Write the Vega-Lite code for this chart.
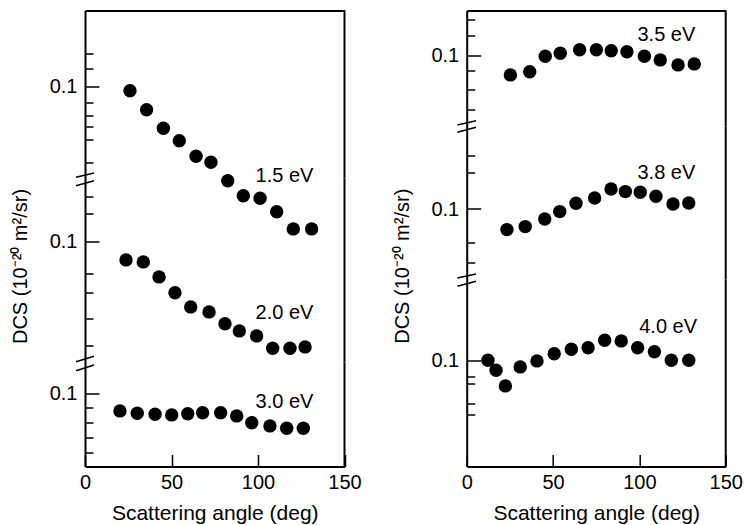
{
  "$schema": "https://vega.github.io/schema/vega-lite/v6.json",
  "padding": {"left": 11, "top": 8.5, "right": 0, "bottom": 0},
  "config": {
    "font": "Liberation Sans",
    "view": {"stroke": null},
    "axis": {
      "domainColor": "black", "domainWidth": 2, "tickColor": "black", "tickWidth": 1.5,
      "labelColor": "black", "labelFontSize": 20, "labelFont": "Liberation Sans",
      "grid": false, "labelFlush": false, "labelOverlap": false,
      "titleColor": "black", "titleFontSize": 21, "titleFontWeight": "normal", "titleFont": "Liberation Sans"
    },
    "text": {"font": "Liberation Sans", "fontSize": 20, "color": "black"}
  },
  "datasets": {
    "dcs": [
      {"energy": "1.5 eV", "angle": 26.0, "dcs": 0.0978},
      {"energy": "1.5 eV", "angle": 35.6, "dcs": 0.0883},
      {"energy": "1.5 eV", "angle": 45.3, "dcs": 0.079},
      {"energy": "1.5 eV", "angle": 54.5, "dcs": 0.0728},
      {"energy": "1.5 eV", "angle": 64.2, "dcs": 0.065},
      {"energy": "1.5 eV", "angle": 72.8, "dcs": 0.062},
      {"energy": "1.5 eV", "angle": 82.5, "dcs": 0.0528},
      {"energy": "1.5 eV", "angle": 91.5, "dcs": 0.0453},
      {"energy": "1.5 eV", "angle": 101.2, "dcs": 0.044},
      {"energy": "1.5 eV", "angle": 110.8, "dcs": 0.0373},
      {"energy": "1.5 eV", "angle": 120.4, "dcs": 0.0287},
      {"energy": "1.5 eV", "angle": 131.0, "dcs": 0.0287},
      {"energy": "2.0 eV", "angle": 23.7, "dcs": 0.0907},
      {"energy": "2.0 eV", "angle": 33.7, "dcs": 0.0897},
      {"energy": "2.0 eV", "angle": 42.8, "dcs": 0.0822},
      {"energy": "2.0 eV", "angle": 52.0, "dcs": 0.0743},
      {"energy": "2.0 eV", "angle": 61.1, "dcs": 0.0672},
      {"energy": "2.0 eV", "angle": 71.7, "dcs": 0.0647},
      {"energy": "2.0 eV", "angle": 80.9, "dcs": 0.0588},
      {"energy": "2.0 eV", "angle": 89.2, "dcs": 0.0552},
      {"energy": "2.0 eV", "angle": 99.2, "dcs": 0.0527},
      {"energy": "2.0 eV", "angle": 108.5, "dcs": 0.0465},
      {"energy": "2.0 eV", "angle": 118.5, "dcs": 0.0465},
      {"energy": "2.0 eV", "angle": 127.2, "dcs": 0.0472},
      {"energy": "3.0 eV", "angle": 20.2, "dcs": 0.0912},
      {"energy": "3.0 eV", "angle": 30.2, "dcs": 0.09},
      {"energy": "3.0 eV", "angle": 40.5, "dcs": 0.0895},
      {"energy": "3.0 eV", "angle": 50.1, "dcs": 0.0892},
      {"energy": "3.0 eV", "angle": 59.4, "dcs": 0.0898},
      {"energy": "3.0 eV", "angle": 68.0, "dcs": 0.0903},
      {"energy": "3.0 eV", "angle": 78.4, "dcs": 0.0903},
      {"energy": "3.0 eV", "angle": 87.7, "dcs": 0.0887},
      {"energy": "3.0 eV", "angle": 96.4, "dcs": 0.0853},
      {"energy": "3.0 eV", "angle": 106.9, "dcs": 0.0837},
      {"energy": "3.0 eV", "angle": 116.6, "dcs": 0.0825},
      {"energy": "3.0 eV", "angle": 126.2, "dcs": 0.0825},
      {"energy": "3.5 eV", "angle": 25.3, "dcs": 0.0904},
      {"energy": "3.5 eV", "angle": 36.5, "dcs": 0.092},
      {"energy": "3.5 eV", "angle": 45.5, "dcs": 0.0997},
      {"energy": "3.5 eV", "angle": 54.2, "dcs": 0.1012},
      {"energy": "3.5 eV", "angle": 65.4, "dcs": 0.103},
      {"energy": "3.5 eV", "angle": 75.1, "dcs": 0.103},
      {"energy": "3.5 eV", "angle": 83.7, "dcs": 0.1025},
      {"energy": "3.5 eV", "angle": 92.8, "dcs": 0.102},
      {"energy": "3.5 eV", "angle": 102.9, "dcs": 0.0997},
      {"energy": "3.5 eV", "angle": 112.1, "dcs": 0.0979},
      {"energy": "3.5 eV", "angle": 122.4, "dcs": 0.0954},
      {"energy": "3.5 eV", "angle": 131.8, "dcs": 0.0959},
      {"energy": "3.8 eV", "angle": 23.3, "dcs": 0.0897},
      {"energy": "3.8 eV", "angle": 33.9, "dcs": 0.0912},
      {"energy": "3.8 eV", "angle": 45.2, "dcs": 0.095},
      {"energy": "3.8 eV", "angle": 53.9, "dcs": 0.0987},
      {"energy": "3.8 eV", "angle": 63.3, "dcs": 0.1029},
      {"energy": "3.8 eV", "angle": 74.1, "dcs": 0.1055},
      {"energy": "3.8 eV", "angle": 83.6, "dcs": 0.11},
      {"energy": "3.8 eV", "angle": 91.9, "dcs": 0.1087},
      {"energy": "3.8 eV", "angle": 100.5, "dcs": 0.1084},
      {"energy": "3.8 eV", "angle": 109.6, "dcs": 0.1064},
      {"energy": "3.8 eV", "angle": 119.5, "dcs": 0.1025},
      {"energy": "3.8 eV", "angle": 128.6, "dcs": 0.103},
      {"energy": "4.0 eV", "angle": 12.3, "dcs": 0.1},
      {"energy": "4.0 eV", "angle": 17.0, "dcs": 0.095},
      {"energy": "4.0 eV", "angle": 22.4, "dcs": 0.0872},
      {"energy": "4.0 eV", "angle": 31.0, "dcs": 0.0967},
      {"energy": "4.0 eV", "angle": 40.7, "dcs": 0.0997},
      {"energy": "4.0 eV", "angle": 50.7, "dcs": 0.1033},
      {"energy": "4.0 eV", "angle": 60.6, "dcs": 0.1055},
      {"energy": "4.0 eV", "angle": 70.3, "dcs": 0.1063},
      {"energy": "4.0 eV", "angle": 79.9, "dcs": 0.11},
      {"energy": "4.0 eV", "angle": 89.5, "dcs": 0.1097},
      {"energy": "4.0 eV", "angle": 99.0, "dcs": 0.1063},
      {"energy": "4.0 eV", "angle": 108.7, "dcs": 0.1043},
      {"energy": "4.0 eV", "angle": 118.5, "dcs": 0.1},
      {"energy": "4.0 eV", "angle": 128.6, "dcs": 0.1}
    ]
  },
  "bounds": "flush",
  "spacing": 381.7,
  "hconcat": [
    {
      "title": {"text": "DCS (10⁻²⁰ m²/sr)", "orient": "left", "anchor": "middle", "fontSize": 20, "fontWeight": "normal", "font": "Liberation Sans", "color": "black", "offset": 18},
      "bounds": "flush",
      "spacing": 0,
      "vconcat": [
        {
          "width": 259.5, "height": 168,
          "layer": [
            {"data": {"name": "dcs"}, "transform": [{"filter": "datum.energy == '1.5 eV'"}],
             "mark": {"type": "circle", "size": 180, "color": "black", "opacity": 1, "clip": false},
             "encoding": {
               "x": {"field": "angle", "type": "quantitative", "scale": {"domain": [0, 150], "nice": false},
                     "axis": {"orient": "top", "labels": false, "ticks": false, "title": null}},
               "y": {"field": "dcs", "type": "quantitative", "scale": {"domain": [0.0539, 0.1379], "nice": false, "zero": false},
                     "axis": {"values": [0.11615, 0.109, 0.1, 0.092, 0.0853, 0.08, 0.0733, 0.062], "tickCount": 50, "title": null, "labelOverlap": false,
                              "labelExpr": "datum.value == 0.1 ? '0.1' : ''",
                              "tickSize": {"condition": {"test": "datum.value == 0.1", "value": -14}, "value": -8},
                              "labelPadding": 22}}
             }},
            {"data": {"values": [{}]}, "mark": {"type": "rule", "color": "black", "strokeWidth": 2}, "encoding": {"x": {"datum": 150}}},
            {"data": {"values": [{}]}, "mark": {"type": "rule", "color": "black", "strokeWidth": 1.5, "clip": false},
             "encoding": {"x": {"datum": -5.2}, "x2": {"datum": 5.2}, "y": {"datum": 0.0545}, "y2": {"datum": 0.05665}}},
            {"data": {"values": [{}]}, "mark": {"type": "rule", "color": "black", "strokeWidth": 1.5, "clip": false},
             "encoding": {"x": {"datum": -5.2}, "x2": {"datum": 5.2}, "y": {"datum": 0.0503}, "y2": {"datum": 0.0528}}},
            {"data": {"values": [{}]}, "mark": {"type": "text", "text": "1.5 eV", "align": "right", "baseline": "alphabetic", "clip": false},
             "encoding": {"x": {"datum": 132}, "y": {"datum": 0.052}}}
          ]
        },
        {
          "width": 259.5, "height": 184,
          "layer": [
            {"data": {"name": "dcs"}, "transform": [{"filter": "datum.energy == '2.0 eV'"}],
             "mark": {"type": "circle", "size": 180, "color": "black", "opacity": 1, "clip": false},
             "encoding": {
               "x": {"field": "angle", "type": "quantitative", "scale": {"domain": [0, 150], "nice": false}, "axis": null},
               "y": {"field": "dcs", "type": "quantitative", "scale": {"domain": [0.0394, 0.1314], "nice": false, "zero": false},
                     "axis": {"values": [0.1225, 0.11365, 0.1, 0.0838, 0.07465, 0.0615, 0.04815], "tickCount": 50, "title": null, "labelOverlap": false,
                              "labelExpr": "datum.value == 0.1 ? '0.1' : ''",
                              "tickSize": {"condition": {"test": "datum.value == 0.1", "value": -14}, "value": -8},
                              "labelPadding": 22}}
             }},
            {"data": {"values": [{}]}, "mark": {"type": "rule", "color": "black", "strokeWidth": 2}, "encoding": {"x": {"datum": 150}}},
            {"data": {"values": [{}]}, "mark": {"type": "rule", "color": "black", "strokeWidth": 1.5, "clip": false},
             "encoding": {"x": {"datum": -5.2}, "x2": {"datum": 5.2}, "y": {"datum": 0.0398}, "y2": {"datum": 0.0425}}},
            {"data": {"values": [{}]}, "mark": {"type": "rule", "color": "black", "strokeWidth": 1.5, "clip": false},
             "encoding": {"x": {"datum": -5.2}, "x2": {"datum": 5.2}, "y": {"datum": 0.0353}, "y2": {"datum": 0.03815}}},
            {"data": {"values": [{}]}, "mark": {"type": "text", "text": "2.0 eV", "align": "right", "baseline": "alphabetic", "clip": false},
             "encoding": {"x": {"datum": 132}, "y": {"datum": 0.061}}}
          ]
        },
        {
          "width": 259.5, "height": 104,
          "layer": [
            {"data": {"name": "dcs"}, "transform": [{"filter": "datum.energy == '3.0 eV'"}],
             "mark": {"type": "circle", "size": 180, "color": "black", "opacity": 1, "clip": false},
             "encoding": {
               "x": {"field": "angle", "type": "quantitative", "scale": {"domain": [0, 150], "nice": false},
                     "axis": {"values": [0, 50, 100, 150], "tickCount": 50, "title": "Scattering angle (deg)", "labelOverlap": false, "tickSize": -12, "labelPadding": 18, "titlePadding": 10}},
               "y": {"field": "dcs", "type": "quantitative", "scale": {"domain": [0.0634, 0.1154], "nice": false, "zero": false},
                     "axis": {"values": [0.1, 0.0928, 0.0853, 0.0778, 0.0703], "tickCount": 50, "title": null, "labelOverlap": false,
                              "labelExpr": "datum.value == 0.1 ? '0.1' : ''",
                              "tickSize": {"condition": {"test": "datum.value == 0.1", "value": -14}, "value": -8},
                              "labelPadding": 22}}
             }},
            {"data": {"values": [{}]}, "mark": {"type": "rule", "color": "black", "strokeWidth": 2}, "encoding": {"x": {"datum": 150}}},
            {"data": {"values": [{}]}, "mark": {"type": "text", "text": "3.0 eV", "align": "right", "baseline": "alphabetic", "clip": false},
             "encoding": {"x": {"datum": 132}, "y": {"datum": 0.0928}}}
          ]
        }
      ]
    },
    {
      "title": {"text": "DCS (10⁻²⁰ m²/sr)", "orient": "left", "anchor": "middle", "fontSize": 20, "fontWeight": "normal", "font": "Liberation Sans", "color": "black", "offset": 18},
      "bounds": "flush",
      "spacing": 0,
      "vconcat": [
        {
          "width": 259, "height": 116,
          "layer": [
            {"data": {"name": "dcs"}, "transform": [{"filter": "datum.energy == '3.5 eV'"}],
             "mark": {"type": "circle", "size": 180, "color": "black", "opacity": 1, "clip": false},
             "encoding": {
               "x": {"field": "angle", "type": "quantitative", "scale": {"domain": [0, 150], "nice": false},
                     "axis": {"orient": "top", "labels": false, "ticks": false, "title": null}},
               "y": {"field": "dcs", "type": "quantitative", "scale": {"domain": [0.0646, 0.1226], "nice": false, "zero": false},
                     "axis": {"values": [0.11835, 0.11, 0.1, 0.0925, 0.08335, 0.07335], "tickCount": 50, "title": null, "labelOverlap": false,
                              "labelExpr": "datum.value == 0.1 ? '0.1' : ''",
                              "tickSize": {"condition": {"test": "datum.value == 0.1", "value": -14}, "value": -8},
                              "labelPadding": 22}}
             }},
            {"data": {"values": [{}]}, "mark": {"type": "rule", "color": "black", "strokeWidth": 2}, "encoding": {"x": {"datum": 150}}},
            {"data": {"values": [{}]}, "mark": {"type": "rule", "color": "black", "strokeWidth": 1.5, "clip": false},
             "encoding": {"x": {"datum": -5.4}, "x2": {"datum": 5.4}, "y": {"datum": 0.06535}, "y2": {"datum": 0.0675}}},
            {"data": {"values": [{}]}, "mark": {"type": "rule", "color": "black", "strokeWidth": 1.5, "clip": false},
             "encoding": {"x": {"datum": -5.4}, "x2": {"datum": 5.4}, "y": {"datum": 0.0617}, "y2": {"datum": 0.0642}}},
            {"data": {"values": [{}]}, "mark": {"type": "text", "text": "3.5 eV", "align": "right", "baseline": "alphabetic", "clip": false},
             "encoding": {"x": {"datum": 132.4}, "y": {"datum": 0.1075}}}
          ]
        },
        {
          "width": 259, "height": 153,
          "layer": [
            {"data": {"name": "dcs"}, "transform": [{"filter": "datum.energy == '3.8 eV'"}],
             "mark": {"type": "circle", "size": 180, "color": "black", "opacity": 1, "clip": false},
             "encoding": {
               "x": {"field": "angle", "type": "quantitative", "scale": {"domain": [0, 150], "nice": false}, "axis": null},
               "y": {"field": "dcs", "type": "quantitative", "scale": {"domain": [0.06475, 0.14125], "nice": false, "zero": false},
                     "axis": {"values": [0.12665, 0.11835, 0.1, 0.08335, 0.07315], "tickCount": 50, "title": null, "labelOverlap": false,
                              "labelExpr": "datum.value == 0.1 ? '0.1' : ''",
                              "tickSize": {"condition": {"test": "datum.value == 0.1", "value": -14}, "value": -8},
                              "labelPadding": 22}}
             }},
            {"data": {"values": [{}]}, "mark": {"type": "rule", "color": "black", "strokeWidth": 2}, "encoding": {"x": {"datum": 150}}},
            {"data": {"values": [{}]}, "mark": {"type": "rule", "color": "black", "strokeWidth": 1.5, "clip": false},
             "encoding": {"x": {"datum": -5.4}, "x2": {"datum": 5.4}, "y": {"datum": 0.0655}, "y2": {"datum": 0.0675}}},
            {"data": {"values": [{}]}, "mark": {"type": "rule", "color": "black", "strokeWidth": 1.5, "clip": false},
             "encoding": {"x": {"datum": -5.4}, "x2": {"datum": 5.4}, "y": {"datum": 0.06135}, "y2": {"datum": 0.06385}}},
            {"data": {"values": [{}]}, "mark": {"type": "text", "text": "3.8 eV", "align": "right", "baseline": "alphabetic", "clip": false},
             "encoding": {"x": {"datum": 132.4}, "y": {"datum": 0.115}}}
          ]
        },
        {
          "width": 259, "height": 187,
          "layer": [
            {"data": {"name": "dcs"}, "transform": [{"filter": "datum.energy == '4.0 eV'"}],
             "mark": {"type": "circle", "size": 180, "color": "black", "opacity": 1, "clip": false},
             "encoding": {
               "x": {"field": "angle", "type": "quantitative", "scale": {"domain": [0, 150], "nice": false},
                     "axis": {"values": [0, 50, 100, 150], "tickCount": 50, "title": "Scattering angle (deg)", "labelOverlap": false, "tickSize": -12, "labelPadding": 18, "titlePadding": 10}},
               "y": {"field": "dcs", "type": "quantitative", "scale": {"domain": [0.0469, 0.1404], "nice": false, "zero": false},
                     "axis": {"values": [0.1, 0.09215, 0.0883, 0.0783, 0.07265], "tickCount": 50, "title": null, "labelOverlap": false,
                              "labelExpr": "datum.value == 0.1 ? '0.1' : ''",
                              "tickSize": {"condition": {"test": "datum.value == 0.1", "value": -14}, "value": -8},
                              "labelPadding": 22}}
             }},
            {"data": {"values": [{}]}, "mark": {"type": "rule", "color": "black", "strokeWidth": 2}, "encoding": {"x": {"datum": 150}}},
            {"data": {"values": [{}]}, "mark": {"type": "text", "text": "4.0 eV", "align": "right", "baseline": "alphabetic", "clip": false},
             "encoding": {"x": {"datum": 133.4}, "y": {"datum": 0.1135}}}
          ]
        }
      ]
    }
  ]
}
